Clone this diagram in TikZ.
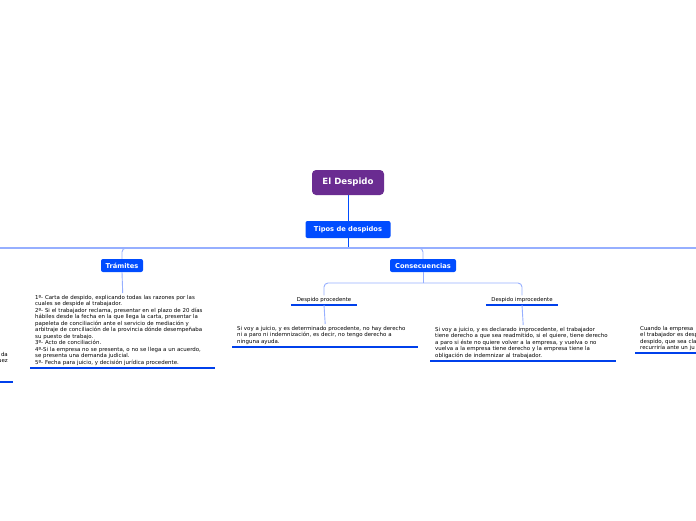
\documentclass[tikz,border=0pt]{standalone}
\usepackage{fontspec}
\setmainfont{DejaVu Sans}
\usetikzlibrary{positioning}

\definecolor{mmpurple}{RGB}{106,44,145}
\definecolor{mmblue}{RGB}{0,76,255}
\definecolor{mmlight}{RGB}{150,175,255}
\definecolor{mmline}{RGB}{0,64,235}

\tikzset{
    central/.style={rounded corners=4pt, fill=mmpurple, text=white,
        font=\bfseries\fontsize{8.6}{9}\selectfont, minimum width=72pt, minimum height=25pt},
    topic/.style={rounded corners=2pt, fill=mmblue, text=white,
        font=\bfseries\fontsize{6.7}{7}\selectfont, minimum height=13pt, inner xsep=2pt},
    subtopic/.style={font=\fontsize{5.4}{6}\selectfont, minimum width=66pt, inner ysep=2pt, anchor=south},
    note/.style={font=\fontsize{5.45}{6.5}\selectfont, align=left, anchor=north west,
        text width=176pt, inner xsep=5pt, inner ysep=2pt},
    stem/.style={mmblue, line width=0.8pt},
    branch/.style={mmlight, line width=0.9pt, rounded corners=4pt},
    hub/.style={mmlight, line width=1.4pt},
    uline/.style={mmline, line width=2.2pt},
}

\begin{document}
\begin{tikzpicture}[x=1pt,y=-1pt]
    \useasboundingbox (0,0) rectangle (696,520);
    \clip (0,0) rectangle (696,520);

    % main topics
    \node[central] (despido) at (348,182.5) {El Despido};
    \node[topic, minimum width=85pt, minimum height=17pt] (tipos) at (348,229.5) {Tipos de despidos};
    \node[topic, minimum width=42pt] (tramites) at (122,265.5) {Trámites};
    \node[topic, minimum width=66pt] (consec) at (423,265.5) {Consecuencias};

    \coordinate (hubc) at (348,248);
    \coordinate (hubl) at (0,248);
    \coordinate (hubr) at (696,248);
    \coordinate (split) at (423,283);

    \draw[stem] (despido) -- (tipos);
    \draw[stem] (tipos) -- (hubc);
    \draw[hub] (hubl) -- (hubr);
    \draw[branch] (hubc) -| (tramites.north);
    \draw[branch] (hubc) -| (consec.north);

    % subtopics
    \node[subtopic] (proc) at (324,305) {Despido procedente};
    \node[subtopic, minimum width=72pt] (improc) at (522,305) {Despido improcedente};
    \draw[uline] (proc.south west) -- (proc.south east);
    \draw[uline] (improc.south west) -- (improc.south east);

    \draw[branch] (consec.south) -- (split);
    \draw[branch] (split) -| (proc.north);
    \draw[branch] (split) -| (improc.north);

    % notes
    \node[note, text width=175pt] (tramtxt) at (30,293) {%
        1º- Carta de despido, explicando todas las razones por las\\
        cuales se despide al trabajador.\\
        2º- Si el trabajador reclama, presentar en el plazo de 20 días\\
        hábiles desde la fecha en la que llega la carta, presentar la\\
        papeleta de conciliación ante el servicio de mediación y\\
        arbitraje de conciliación de la provincia dónde desempeñaba\\
        su puesto de trabajo.\\
        3º- Acto de conciliación.\\
        4º-Si la empresa no se presenta, o no se llega a un acuerdo,\\
        se presenta una demanda judicial.\\
        5º- Fecha para juicio, y decisión jurídica procedente.};
    \node[note] (proctxt) at (232,324) {%
        Si voy a juicio, y es determinado procedente, no hay derecho\\
        ni a paro ni indemnización, es decir, no tengo derecho a\\
        ninguna ayuda.};
    \node[note] (improctxt) at (430,325) {%
        Si voy a juicio, y es declarado improcedente, el trabajador\\
        tiene derecho a que sea readmitido, si el quiere, tiene derecho\\
        a paro si éste no quiere volver a la empresa, y vuelva o no\\
        vuelva a la empresa tiene derecho y la empresa tiene la\\
        obligación de indemnizar al trabajador.};
    \node[note] (otrotxt) at (635,324) {%
        Cuando la empresa\\
        el trabajador es desp\\
        despido, que sea cla\\
        recurriría ante un ju};
    \node[font=\fontsize{5.45}{6.5}\selectfont, align=right, anchor=north east, inner sep=0pt]
        (restotxt) at (8,352) {da\\uez};

    \draw[branch] (tramites.south) -- (tramtxt.north);
    \draw[branch] (proc.south) -- (proctxt.north);
    \draw[branch] (improc.south) -- (improctxt.north);

    \draw[uline] (tramtxt.south west) -- (tramtxt.south east);
    \draw[uline] (proctxt.south west) -- (proctxt.south east);
    \draw[uline] (improctxt.south west) -- (improctxt.south east);
    \draw[uline] (otrotxt.south west) -- (otrotxt.south east);
    \coordinate (restol) at (0,382);
    \coordinate (restor) at (13,382);
    \draw[uline] (restol) -- (restor);
\end{tikzpicture}
\end{document}
